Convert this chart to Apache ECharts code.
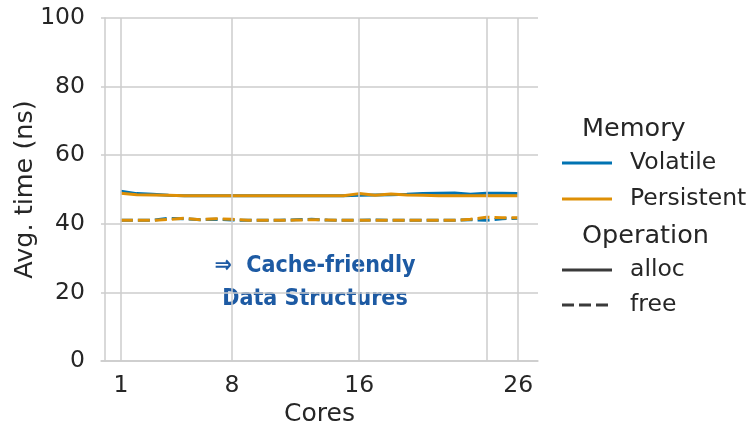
<!DOCTYPE html>
<html><head><meta charset="utf-8">
<script src="https://cdn.jsdelivr.net/npm/echarts@6/dist/echarts.min.js"></script>
<style>html,body{margin:0;padding:0;background:#fff}#c{width:751px;height:428px}</style>
</head><body><div id="c"></div>
<script>
const cores = [1,2,3,4,5,6,7,8,9,10,11,12,13,14,15,16,17,18,19,20,21,22,23,24,25,26];
const xTickLabels = [1, 8, 16, 26];
const xGridValues = [1, 8, 16, 24, 26];
const volatileAlloc   = [49.5,48.8,48.6,48.3,48.2,48.2,48.2,48.2,48.2,48.2,48.2,48.2,48.2,48.2,48.2,48.3,48.4,48.5,48.6,48.8,48.9,49.0,48.6,48.9,48.9,48.8];
const persistentAlloc = [48.9,48.5,48.4,48.3,48.2,48.2,48.2,48.2,48.2,48.2,48.2,48.2,48.2,48.2,48.2,48.8,48.3,48.7,48.4,48.3,48.2,48.2,48.2,48.2,48.2,48.2];
const volatileFree    = [41.0,41.0,41.0,41.6,41.5,41.2,41.3,41.1,41.0,41.0,41.0,41.2,41.3,41.1,41.0,41.0,41.1,41.0,41.0,41.0,41.0,41.0,41.2,41.0,41.5,41.6];
const persistentFree  = [41.0,41.0,41.0,41.3,41.6,41.2,41.5,41.3,41.0,41.0,41.0,41.1,41.2,41.1,41.0,41.0,41.0,41.0,41.0,41.0,41.0,41.0,41.3,41.9,41.8,41.8];

const BLUE = '#0173b2', ORANGE = '#de8f05', TXT = '#262626', GRID = '#cccccc';
const FONT = 'DejaVu Sans';
const pairs = v => cores.map((c,i)=>[c, v[i]]);
function line(name, vals, color, dashed){
  return {name, type:'line', data:pairs(vals), showSymbol:false, symbol:'none', z:3,
    lineStyle:{color, width:3, type: dashed ? [12,5] : 'solid'}, itemStyle:{color}};
}
const T = (text, x, y, size) => ({type:'text', x, y, style:{text, font: size+'px DejaVu Sans', fill:TXT, verticalAlign:'middle', align:'left'}});
const chart = echarts.init(document.getElementById('c'), null, {renderer:'canvas'});
chart.setOption({
  animation:false,
  backgroundColor:'#fff',
  grid:{left:101, right:213, top:18, bottom:67, containLabel:false, outerBoundsMode:'none'},
  xAxis:{type:'value', min:-0.25, max:27.25,
    name:'Cores', nameLocation:'middle', nameGap:41, nameMoveOverlap:false,
    nameTextStyle:{fontFamily:FONT, fontSize:25, color:TXT},
    axisLine:{show:true, lineStyle:{color:GRID, width:1.5}},
    axisTick:{show:false}, splitLine:{show:false},
    axisLabel:{customValues:xTickLabels, fontFamily:FONT, fontSize:23.5, color:TXT, margin:13}},
  yAxis:{type:'value', min:0, max:100, interval:20,
    name:'Avg. time (ns)', nameLocation:'middle', nameGap:63, nameMoveOverlap:false,
    nameTextStyle:{fontFamily:FONT, fontSize:25.5, color:TXT},
    axisLine:{show:true, lineStyle:{color:GRID, width:1.5}},
    axisTick:{show:false},
    splitLine:{show:true, lineStyle:{color:GRID, width:1.5}},
    axisLabel:{fontFamily:FONT, fontSize:23.5, color:TXT, margin:16}},
  series:[
    {type:'line', data:[], z:1, silent:true,
      markLine:{silent:true, symbol:'none', label:{show:false},
        lineStyle:{color:GRID, width:1.5, type:'solid'},
        data: xGridValues.map(v=>({xAxis:v}))}},
    line('Volatile alloc', volatileAlloc, BLUE, false),
    line('Persistent alloc', persistentAlloc, ORANGE, false),
    line('Volatile free', volatileFree, BLUE, true),
    line('Persistent free', persistentFree, ORANGE, true)
  ],
  graphic:[
    T('Memory', 582, 129, 25.5),
    {type:'line', shape:{x1:562,y1:163,x2:612,y2:163}, style:{stroke:BLUE, lineWidth:3}},
    T('Volatile', 630, 163, 23.5),
    {type:'line', shape:{x1:562,y1:199,x2:612,y2:199}, style:{stroke:ORANGE, lineWidth:3}},
    T('Persistent', 630, 199, 23.5),
    T('Operation', 582, 236, 25.5),
    {type:'line', shape:{x1:562,y1:270,x2:612,y2:270}, style:{stroke:'#3a3a3a', lineWidth:3}},
    T('alloc', 630, 270, 23.5),
    {type:'line', shape:{x1:562,y1:305,x2:612,y2:305}, style:{stroke:'#3a3a3a', lineWidth:3, lineDash:[12,5]}},
    T('free', 630, 305, 23.5),
    {type:'text', x:315, y:283, style:{text:'⇒  Cache-friendly\nData Structures', align:'center', verticalAlign:'middle',
      font:'bold 23px "Liberation Sans Narrow", "DejaVu Sans Condensed", sans-serif', fill:'#1d5aa3', lineHeight:33}}
  ]
});
</script></body></html>
